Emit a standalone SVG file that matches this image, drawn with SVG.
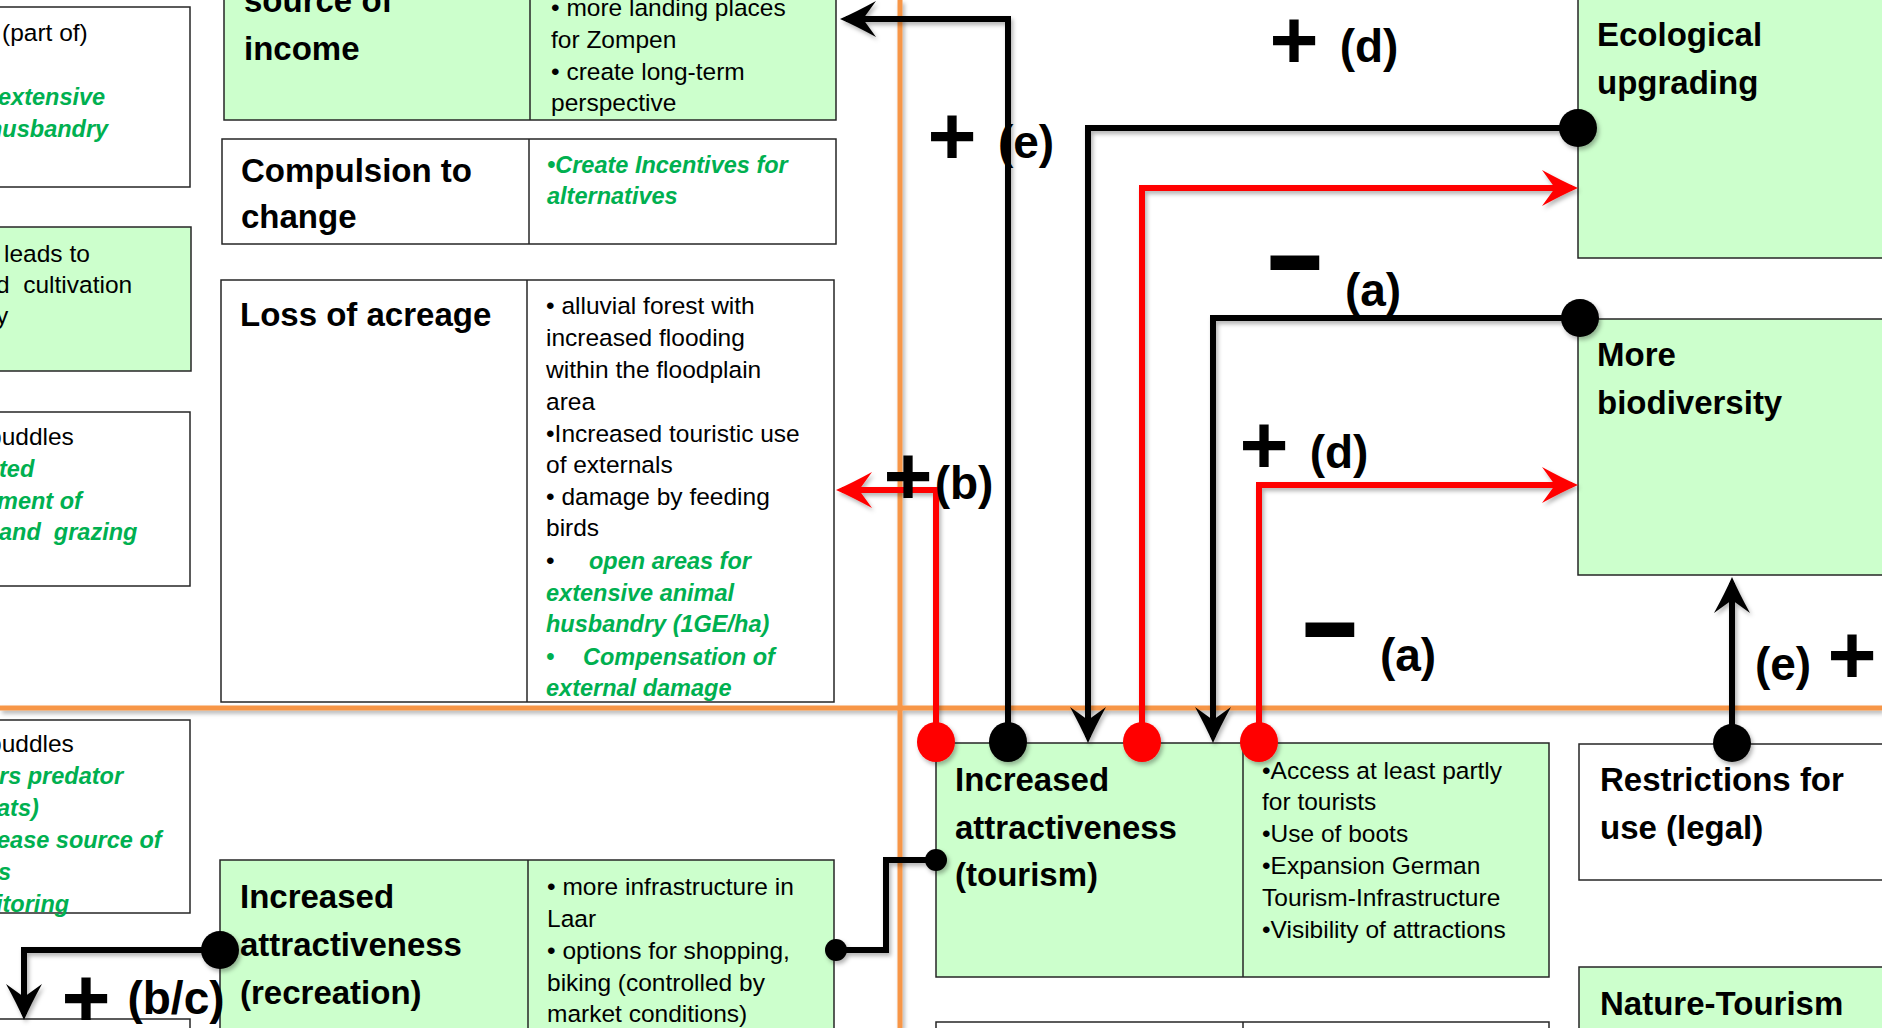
<svg xmlns="http://www.w3.org/2000/svg" width="1882" height="1028" viewBox="0 0 1882 1028">
<style>
.box{stroke:#262626;stroke-width:1.5}
.gr{fill:#CCFFCC}
.wh{fill:#FFFFFF}
.div{stroke:#262626;stroke-width:1.5}
.h{font-family:"Liberation Sans",Arial,sans-serif;font-weight:bold;font-size:33px;fill:#000}
.b{font-family:"Liberation Sans",Arial,sans-serif;font-size:24.5px;fill:#000}
.g{font-family:"Liberation Sans",Arial,sans-serif;font-weight:bold;font-style:italic;font-size:23.5px;fill:#00B050}
.lbl{font-family:"Liberation Sans",Arial,sans-serif;font-weight:bold;font-size:46px;fill:#000;text-anchor:middle}
.plus{font-family:"Liberation Sans",Arial,sans-serif;font-weight:bold;font-size:84px;fill:#000;text-anchor:middle}
.minus{font-family:"Liberation Sans",Arial,sans-serif;font-weight:bold;font-size:120px;fill:#000;text-anchor:middle}
.kb{fill:none;stroke:#000;stroke-width:6}
.kr{fill:none;stroke:#FF0000;stroke-width:6}
.orange{stroke:#F79646;stroke-width:5}
</style>
<defs>
<filter id="sh" x="-10%" y="-10%" width="120%" height="120%">
<feDropShadow dx="2" dy="3" stdDeviation="2" flood-color="#000" flood-opacity="0.3"/>
</filter>
<marker id="ab" markerUnits="userSpaceOnUse" orient="auto" overflow="visible" refX="0" refY="0" markerWidth="1" markerHeight="1">
<path d="M6,0 Q-10,-7 -30,-18 L-17,0 L-30,18 Q-10,7 6,0 Z" fill="#000"/>
</marker>
<marker id="ar" markerUnits="userSpaceOnUse" orient="auto" overflow="visible" refX="0" refY="0" markerWidth="1" markerHeight="1">
<path d="M6,0 Q-10,-7 -30,-18 L-17,0 L-30,18 Q-10,7 6,0 Z" fill="#FF0000"/>
</marker>
</defs>
<rect x="0" y="0" width="1882" height="1028" fill="#FFFFFF"/>

<g id="dividers" filter="url(#sh)">
<line class="orange" x1="0" y1="708" x2="1882" y2="708"/>
<line class="orange" x1="900" y1="0" x2="900" y2="1028"/>
</g>

<g id="node-left-a">
<rect class="box wh" x="-10" y="7" width="200" height="180"/>
<text class="b" x="2" y="41">(part of)</text>
<text class="g" x="-2" y="105">extensive</text>
<text class="g" x="-12" y="137">husbandry</text>
</g>
<g id="node-left-b">
<rect class="box gr" x="-10" y="227" width="201" height="144"/>
<text class="b" x="4" y="262">leads to</text>
<text class="b" x="-4" y="293" xml:space="preserve">d  cultivation</text>
<text class="b" x="-4" y="324">y</text>
</g>
<g id="node-left-c">
<rect class="box wh" x="-10" y="412" width="200" height="174"/>
<text class="b" x="-12" y="445">puddles</text>
<text class="g" x="-1" y="477">ted</text>
<text class="g" x="-3" y="509">ment of</text>
<text class="g" x="-1" y="540" xml:space="preserve">and  grazing</text>
</g>
<g id="node-left-d">
<rect class="box wh" x="-10" y="720" width="200" height="193"/>
<text class="b" x="-12" y="752">puddles</text>
<text class="g" x="-1" y="784">rs predator</text>
<text class="g" x="-3" y="816">ats)</text>
<text class="g" x="-3" y="848">ease source of</text>
<text class="g" x="-2" y="880">s</text>
<text class="g" x="-4" y="912">itoring</text>
</g>
<g id="node-left-e">
<rect class="box wh" x="-10" y="1019" width="200" height="30"/>
</g>

<g id="node-source-income">
<rect class="box gr" x="224" y="-10" width="612" height="130"/>
<line class="div" x1="530" y1="-10" x2="530" y2="120"/>
<text class="h" x="244" y="12">source of</text>
<text class="h" x="244" y="60">income</text>
<text class="b" x="551" y="16">• more landing places</text>
<text class="b" x="551" y="48">for Zompen</text>
<text class="b" x="551" y="80">• create long-term</text>
<text class="b" x="551" y="111">perspective</text>
</g>

<g id="node-compulsion">
<rect class="box wh" x="222" y="139" width="614" height="105"/>
<line class="div" x1="529" y1="139" x2="529" y2="244"/>
<text class="h" x="241" y="182">Compulsion to</text>
<text class="h" x="241" y="228">change</text>
<text class="g" x="547" y="173">•Create Incentives for</text>
<text class="g" x="547" y="204">alternatives</text>
</g>

<g id="node-loss-acreage">
<rect class="box wh" x="221" y="280" width="613" height="422"/>
<line class="div" x1="527" y1="280" x2="527" y2="702"/>
<text class="h" x="240" y="326">Loss of acreage</text>
<text class="b" x="546" y="314">• alluvial forest with</text>
<text class="b" x="546" y="346">increased flooding</text>
<text class="b" x="546" y="378">within the floodplain</text>
<text class="b" x="546" y="410">area</text>
<text class="b" x="546" y="442">•Increased touristic use</text>
<text class="b" x="546" y="473">of externals</text>
<text class="b" x="546" y="505">• damage by feeding</text>
<text class="b" x="546" y="536">birds</text>
<text class="b" x="546" y="569">•</text>
<text class="g" x="589" y="569">open areas for</text>
<text class="g" x="546" y="601">extensive animal</text>
<text class="g" x="546" y="632">husbandry (1GE/ha)</text>
<text class="g" x="546" y="665">•</text>
<text class="g" x="583" y="665">Compensation of</text>
<text class="g" x="546" y="696">external damage</text>
</g>

<g id="node-recreation">
<rect class="box gr" x="220" y="860" width="614" height="190"/>
<line class="div" x1="528" y1="860" x2="528" y2="1050"/>
<text class="h" x="240" y="908">Increased</text>
<text class="h" x="240" y="956">attractiveness</text>
<text class="h" x="240" y="1004">(recreation)</text>
<text class="b" x="547" y="895">• more infrastructure in</text>
<text class="b" x="547" y="927">Laar</text>
<text class="b" x="547" y="959">• options for shopping,</text>
<text class="b" x="547" y="991">biking (controlled by</text>
<text class="b" x="547" y="1022">market conditions)</text>
</g>

<g id="node-tourism">
<rect class="box gr" x="936" y="743" width="613" height="234"/>
<line class="div" x1="1243" y1="743" x2="1243" y2="977"/>
<text class="h" x="955" y="791">Increased</text>
<text class="h" x="955" y="839">attractiveness</text>
<text class="h" x="955" y="886">(tourism)</text>
<text class="b" x="1262" y="779">•Access at least partly</text>
<text class="b" x="1262" y="810">for tourists</text>
<text class="b" x="1262" y="842">•Use of boots</text>
<text class="b" x="1262" y="874">•Expansion German</text>
<text class="b" x="1262" y="906">Tourism-Infrastructure</text>
<text class="b" x="1262" y="938">•Visibility of attractions</text>
</g>

<g id="node-below-tourism">
<rect class="box wh" x="936" y="1022" width="613" height="30"/>
<line class="div" x1="1243" y1="1022" x2="1243" y2="1052"/>
</g>

<g id="node-ecological">
<rect class="box gr" x="1578" y="-10" width="330" height="268"/>
<text class="h" x="1597" y="46">Ecological</text>
<text class="h" x="1597" y="94">upgrading</text>
</g>

<g id="node-biodiversity">
<rect class="box gr" x="1578" y="319" width="330" height="256"/>
<text class="h" x="1597" y="366">More</text>
<text class="h" x="1597" y="414">biodiversity</text>
</g>

<g id="node-restrictions">
<rect class="box wh" x="1579" y="744" width="330" height="136"/>
<text class="h" x="1600" y="791">Restrictions for</text>
<text class="h" x="1600" y="839">use (legal)</text>
</g>

<g id="node-nature-tourism">
<rect class="box gr" x="1579" y="967" width="330" height="80"/>
<text class="h" x="1600" y="1015">Nature-Tourism</text>
</g>

<g id="connectors" filter="url(#sh)">
<path class="kb" d="M1008,743 V19 H846" marker-end="url(#ab)"/>
<path class="kb" d="M1578,128 H1088 V737" marker-end="url(#ab)"/>
<path class="kr" d="M1142,743 V188 H1572" marker-end="url(#ar)"/>
<path class="kb" d="M1580,318 H1213 V737" marker-end="url(#ab)"/>
<path class="kr" d="M1259,743 V485 H1572" marker-end="url(#ar)"/>
<path class="kr" d="M936,743 V490 H842" marker-end="url(#ar)"/>
<path class="kb" d="M1732,743 V583" marker-end="url(#ab)"/>
<path class="kb" d="M936,860 H886 V950 H836"/>
<path class="kb" d="M220,950 H24 V1014" marker-end="url(#ab)"/>
<ellipse cx="936" cy="742" rx="19" ry="20" fill="#FF0000"/>
<ellipse cx="1008" cy="742" rx="19" ry="20" fill="#000"/>
<ellipse cx="1142" cy="742" rx="19" ry="20" fill="#FF0000"/>
<ellipse cx="1259" cy="742" rx="19" ry="20" fill="#FF0000"/>
<ellipse cx="1578" cy="128" rx="19" ry="19" fill="#000"/>
<ellipse cx="1580" cy="318" rx="19" ry="19" fill="#000"/>
<ellipse cx="1732" cy="743" rx="19" ry="19" fill="#000"/>
<ellipse cx="220" cy="950" rx="19" ry="19" fill="#000"/>
<circle cx="936" cy="860" r="11" fill="#000"/>
<circle cx="836" cy="950" r="11" fill="#000"/>
</g>

<g id="labels">
<text class="plus" x="1294" y="69">+</text>
<text class="lbl" x="1369" y="62">(d)</text>
<text class="plus" x="952" y="165">+</text>
<text class="lbl" x="1026" y="158">(e)</text>
<text class="minus" transform="translate(1295,262) scale(1.6,1)" x="0" y="32">-</text>
<text class="lbl" x="1373" y="306">(a)</text>
<text class="plus" x="1264" y="474">+</text>
<text class="lbl" x="1339" y="468">(d)</text>
<text class="plus" x="908" y="505">+</text>
<text class="lbl" x="964" y="499">(b)</text>
<text class="minus" transform="translate(1330,629) scale(1.6,1)" x="0" y="32">-</text>
<text class="lbl" x="1408" y="671">(a)</text>
<text class="lbl" x="1783" y="680">(e)</text>
<text class="plus" x="1852" y="684">+</text>
<text class="plus" x="86" y="1027">+</text>
<text class="lbl" x="176" y="1014">(b/c)</text>
</g>
</svg>
